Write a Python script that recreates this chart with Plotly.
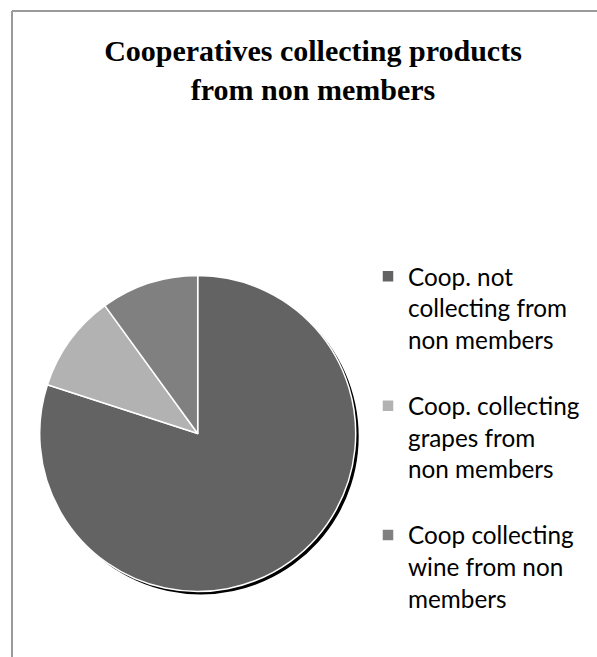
import plotly.graph_objects as go

# Data
categories = [
    "Coop. not<br>collecting from<br>non members",
    "Coop. collecting<br>grapes from<br>non members",
    "Coop collecting<br>wine from non<br>members",
]
values = [80, 10, 10]
slice_colors = ["#636363", "#b2b2b2", "#808080"]

W, H = 597, 657
cx, cy, r = 197.7, 433.5, 158.0

def dom(dx=0.0, dy=0.0):
    return dict(
        x=[(cx - r + dx) / W, (cx + r + dx) / W],
        y=[(H - (cy + dy) - r) / H, (H - (cy + dy) + r) / H],
    )

fig = go.Figure()

# drop shadow
fig.add_trace(go.Pie(
    labels=categories, values=values, sort=False, direction="clockwise", rotation=0,
    marker=dict(colors=["#000000"] * len(values), line=dict(width=0)),
    textinfo="none", hoverinfo="skip", showlegend=False, domain=dom(3, 3),
))

fig.add_trace(go.Pie(
    labels=[c + "<br> " for c in categories], values=values, sort=False,
    direction="clockwise", rotation=0,
    marker=dict(colors=slice_colors, line=dict(color="#ffffff", width=1.5)),
    textinfo="none", domain=dom(),
))

border = dict(color="#9a9a9a", width=2)
fig.update_layout(
    width=W, height=H,
    margin=dict(l=0, r=0, t=0, b=0),
    paper_bgcolor="white", plot_bgcolor="white",
    title=dict(
        text="Cooperatives collecting products<br>from non members",
        font=dict(family="Liberation Serif", size=30, color="black", weight="bold"),
        x=313 / W, xanchor="center", xref="container",
        y=1 - 61 / H, yanchor="top", yref="container",
    ),
    legend=dict(
        x=368 / W, xanchor="left", y=1 - 254 / H, yanchor="top",
        font=dict(family="Lato", size=24.3, color="black"),
        valign="top", bgcolor="rgba(0,0,0,0)", traceorder="normal",
    ),
    shapes=[
        dict(type="line", xref="paper", yref="paper",
             x0=12 / W, x1=1.0, y0=1 - 11 / H, y1=1 - 11 / H, line=border),
        dict(type="line", xref="paper", yref="paper",
             x0=12 / W, x1=12 / W, y0=0.0, y1=1 - 11 / H, line=border),
    ],
)

fig.write_html(
    "out.html",
    config={"displayModeBar": False},
    post_script="document.body.style.margin='0';document.body.style.overflow='hidden';",
)
